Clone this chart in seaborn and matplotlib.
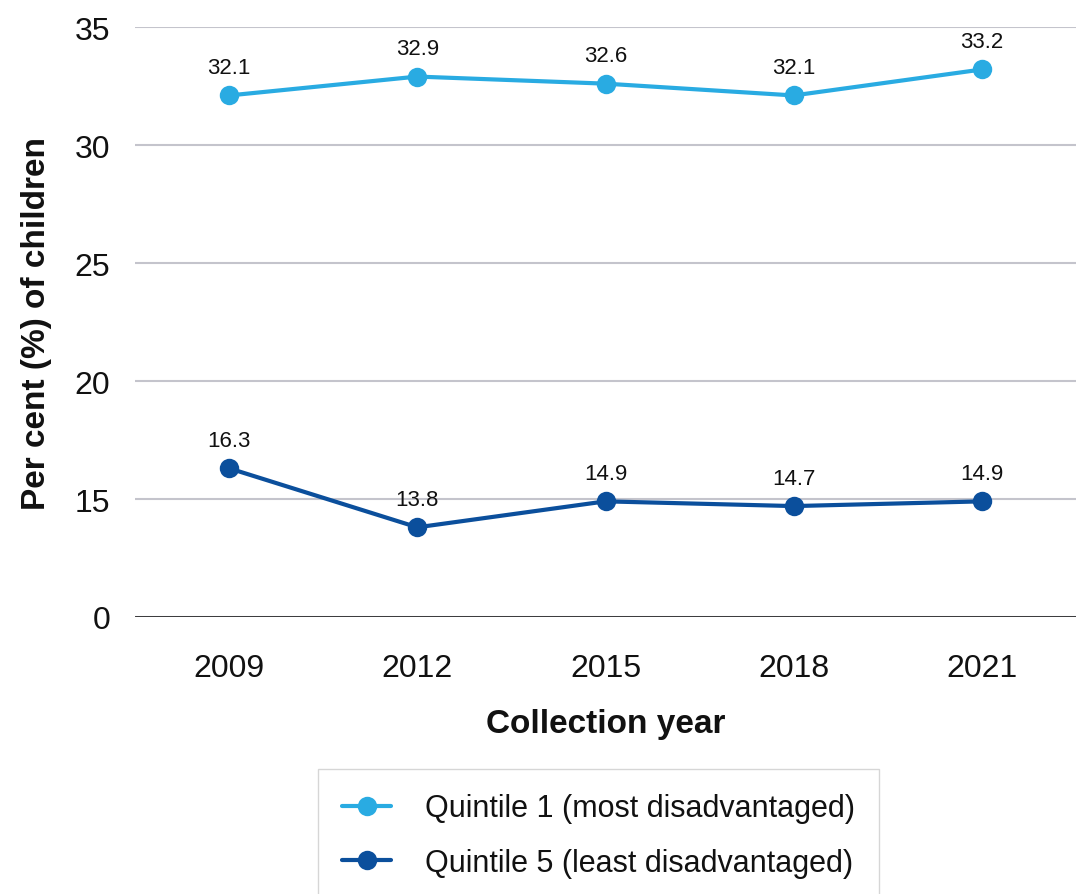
import pandas as pd
import seaborn as sns
import matplotlib.pyplot as plt

years = ["2009", "2012", "2015", "2018", "2021"]
q1 = [32.1, 32.9, 32.6, 32.1, 33.2]
q5 = [16.3, 13.8, 14.9, 14.7, 14.9]
series = ["Quintile 1 (most disadvantaged)", "Quintile 5 (least disadvantaged)"]
colors = ["#29abe2", "#0b4f9c"]

# axis is broken: the bottom gridline stands for 0 but sits where 10 would be
ytick_pos = [10, 15, 20, 25, 30, 35]
ytick_labels = ["0", "15", "20", "25", "30", "35"]

df = pd.DataFrame({
    "year": years * 2,
    "value": q1 + q5,
    "series": [series[0]] * 5 + [series[1]] * 5,
})

sns.set_style("white")
plt.rcParams["font.family"] = ["Liberation Sans", "DejaVu Sans"]

fig = plt.figure(figsize=(10.76, 8.95), dpi=100)
ax = fig.add_axes([0.1255, 0.3095, 0.8745, 0.6592])

sns.lineplot(data=df, x="year", y="value", hue="series", palette=colors,
             marker="o", markersize=14, linewidth=3, markeredgewidth=0,
             ax=ax, legend=True)

for vals in (q1, q5):
    for i, v in enumerate(vals):
        ax.annotate(f"{v}", (i, v), xytext=(0, 16), textcoords="offset points",
                    ha="center", va="baseline", fontsize=16, color="#111111")

ax.set_xlim(-0.5, 4.5)
ax.set_ylim(10, 35)
ax.set_yticks(ytick_pos)
ax.set_yticklabels(ytick_labels)
ax.grid(axis="y", color="#c4c4cc", linewidth=1.5)
ax.axhline(10, color="#111111", linewidth=1.8, zorder=1)
for s in ax.spines.values():
    s.set_visible(False)
ax.tick_params(axis="both", length=0, labelsize=23, colors="#111111")
ax.tick_params(axis="y", pad=18)
ax.tick_params(axis="x", pad=26)

ax.set_xlabel("Collection year", fontsize=24, fontweight="bold", labelpad=18,
              color="#111111")
ax.set_ylabel("Per cent (%) of children", fontsize=24, fontweight="bold",
              labelpad=16, color="#111111")

h, l = ax.get_legend_handles_labels()
leg = ax.legend(h, l, loc="upper left", bbox_to_anchor=(0.2955, 0.1397),
                bbox_transform=fig.transFigure, fontsize=22, frameon=True,
                fancybox=False, edgecolor="#cccccc", borderpad=0.8,
                labelspacing=0.8, handlelength=1.6, handletextpad=1.1,
                borderaxespad=0)
for t in leg.get_texts():
    t.set_color("#111111")

fig.savefig("out.png", dpi=100)
